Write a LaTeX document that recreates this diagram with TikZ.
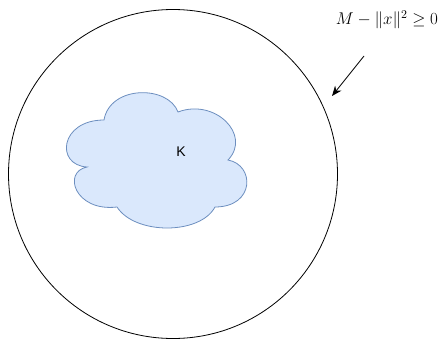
\documentclass[tikz,border=0pt]{standalone}
\usepackage{fix-cm}
\usepackage{amsmath, amssymb}
\usepackage{fontspec}
\setsansfont{Liberation Sans}
\usetikzlibrary{arrows.meta,positioning}
\definecolor{cloudfill}{HTML}{DAE8FC}
\definecolor{clouddraw}{HTML}{6C8EBF}

\begin{document}
\begin{tikzpicture}[
  x=1pt, y=-1pt,
  every node/.style={font=\small},
  ball/.style={circle, draw=black, line width=0.8pt, inner sep=0pt, minimum size=329pt},
  blob/.style={draw=clouddraw, fill=cloudfill, line width=0.8pt},
  ar/.style={-{Stealth[length=10pt, width=8pt]}, line width=0.8pt}
]
  \useasboundingbox (0,0) rectangle (441,340);
  \node[ball] (ball) at (173,174) {};
  \draw[blob] (87,167) .. controls (55,165) and (60,120) .. (104,120)
    .. controls (110,85) and (168,85) .. (178,112)
    .. controls (215,98) and (252,135) .. (228,160)
    .. controls (255,165) and (255,207) .. (215,207)
    .. controls (200,235) and (135,235) .. (117,207)
    .. controls (75,212) and (62,172) .. cycle;
  \node[font=\fontsize{14}{16}\sffamily] (k) at (181,152) {K};
  \node[font=\fontsize{17}{20}\selectfont] (cond) at (387,20) {$M-\|x\|^2\geq 0$};
  \coordinate (tail) at (364,56);
  \coordinate (head) at (332,96);
  \draw[ar] (tail) -- (head);
\end{tikzpicture}
\end{document}
